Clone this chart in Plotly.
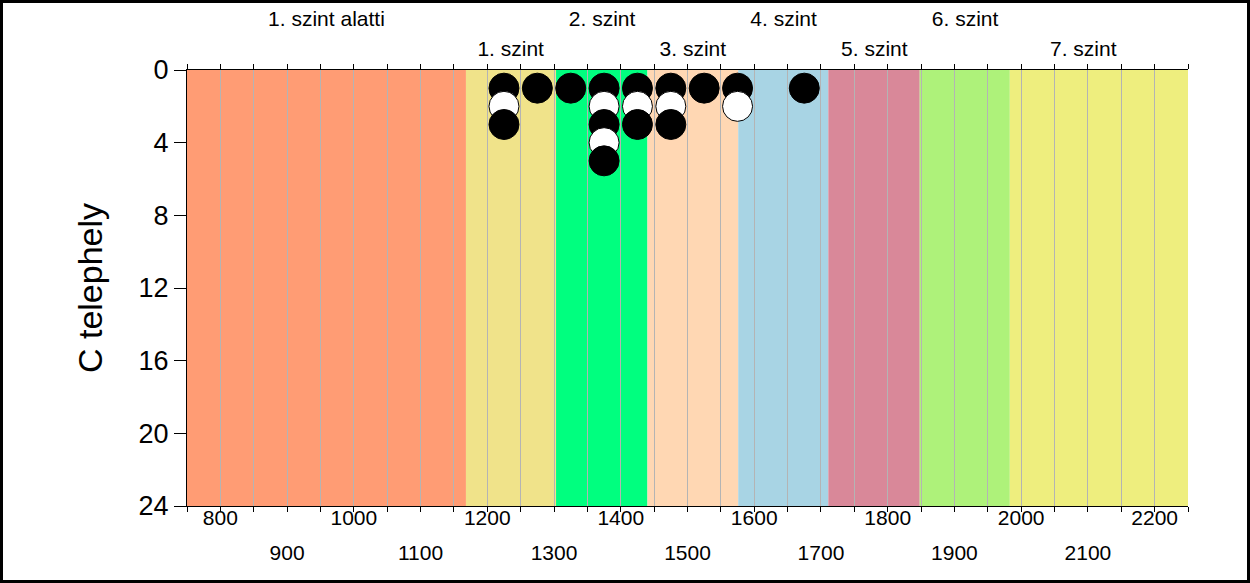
"""C telephely – szintsávok és pontok (plotly)."""
import plotly.graph_objects as go

# ---- adatok ----
BAND_EDGES = [750, 1168, 1303, 1440, 1576, 1711, 1848, 1983, 2250]
BAND_COLORS = ["#FF9C74", "#F0E38A", "#00FF7F", "#FFD7B3",
               "#A8D4E4", "#D98899", "#AEF27A", "#EEEE7E"]
BAND_NAMES = ["1. szint alatti", "1. szint", "2. szint", "3. szint",
              "4. szint", "5. szint", "6. szint", "7. szint"]
BAND_LABEL_X = [959, 1235, 1372, 1508, 1644, 1780, 1916, 2093]

DOT_X = [1225, 1225, 1225, 1275, 1325, 1375, 1375, 1375, 1375, 1375,
         1425, 1425, 1425, 1475, 1475, 1475, 1525, 1575, 1575, 1675]
DOT_Y = [1, 2, 3, 1, 1, 1, 2, 3, 4, 5,
         1, 2, 3, 1, 2, 3, 1, 1, 2, 1]
DOT_FILLED = [True, False, True, True, True, True, False, True, False, True,
              True, False, True, True, False, True, True, True, False, True]

X_RANGE = [750, 2250]
X_TICKS = list(range(750, 2251, 50))
X_LABELS_ROW1 = [800, 1000, 1200, 1400, 1600, 1800, 2000, 2200]
X_LABELS_ROW2 = [900, 1100, 1300, 1500, 1700, 1900, 2100]
Y_RANGE = [24, 0]
Y_TICKS = [0, 4, 8, 12, 16, 20, 24]

FONT = "Liberation Sans, Arial, sans-serif"
W, H = 1250, 583
ML, MR, MT, MB = 187, 62, 70, 77

fig = go.Figure()

fig.add_trace(go.Scatter(
    x=DOT_X, y=DOT_Y, mode="markers", showlegend=False, hoverinfo="x+y",
    marker=dict(size=30, color=["black" if f else "white" for f in DOT_FILLED],
                line=dict(color="black", width=1)),
))

for x0, x1, c in zip(BAND_EDGES[:-1], BAND_EDGES[1:], BAND_COLORS):
    fig.add_shape(type="rect", xref="x", yref="paper", x0=x0, x1=x1, y0=0, y1=1,
                  fillcolor=c, line_width=0, layer="below")

# keret az egész kép körül
pw, ph = W - ML - MR, H - MT - MB
fig.add_shape(type="rect", xref="paper", yref="paper",
              x0=(1.5 - ML) / pw, x1=(W - 1.5 - ML) / pw,
              y0=-(MB - 1.5) / ph, y1=1 + (MT - 1.5) / ph,
              line=dict(color="black", width=3), fillcolor="rgba(0,0,0,0)")

row1 = set(X_LABELS_ROW1)
fig.update_layout(
    width=W, height=H, margin=dict(l=ML, r=MR, t=MT, b=MB, autoexpand=False),
    paper_bgcolor="white", plot_bgcolor="white",
    font=dict(family=FONT, color="black", size=21),
    showlegend=False,
    xaxis=dict(range=X_RANGE, tickmode="array", tickvals=X_TICKS,
               ticktext=[str(v) if v in row1 else "" for v in X_TICKS],
               ticks="outside", ticklen=5, tickcolor="black",
               showline=True, linecolor="black", linewidth=1, mirror="ticks",
               showgrid=True, gridcolor="#b4b4b4", gridwidth=1, zeroline=False,
               ticklabelstandoff=-12, tickfont=dict(size=21)),
    xaxis2=dict(overlaying="x", matches="x", anchor="y", side="bottom",
                tickmode="array", tickvals=X_LABELS_ROW2,
                ticktext=[str(v) for v in X_LABELS_ROW2],
                ticks="", showline=False, showgrid=False, zeroline=False,
                ticklabelstandoff=32, tickfont=dict(size=21)),
    xaxis3=dict(overlaying="x", matches="x", anchor="y", side="top",
                tickmode="array", tickvals=BAND_LABEL_X[1::2],
                ticktext=BAND_NAMES[1::2],
                ticks="", showline=False, showgrid=False, zeroline=False,
                ticklabelstandoff=9, tickfont=dict(size=21)),
    xaxis4=dict(overlaying="x", matches="x", anchor="y", side="top",
                tickmode="array", tickvals=BAND_LABEL_X[0::2],
                ticktext=BAND_NAMES[0::2],
                ticks="", showline=False, showgrid=False, zeroline=False,
                ticklabelstandoff=39, tickfont=dict(size=21)),
    yaxis=dict(range=Y_RANGE, tickmode="array", tickvals=Y_TICKS,
               ticks="outside", ticklen=12, tickcolor="black",
               showline=True, linecolor="black", linewidth=1,
               showgrid=False, zeroline=False, tickfont=dict(size=27),
               title=dict(text="C telephely", font=dict(size=34), standoff=25)),
)

# üres nyomok a segédtengelyekhez
for ax in ("x2", "x3", "x4"):
    fig.add_trace(go.Scatter(x=[None], y=[None], xaxis=ax, yaxis="y",
                             showlegend=False, hoverinfo="skip"))

fig.write_html("out.html", config={"displayModeBar": False},
               post_script="document.body.style.margin='0';")
